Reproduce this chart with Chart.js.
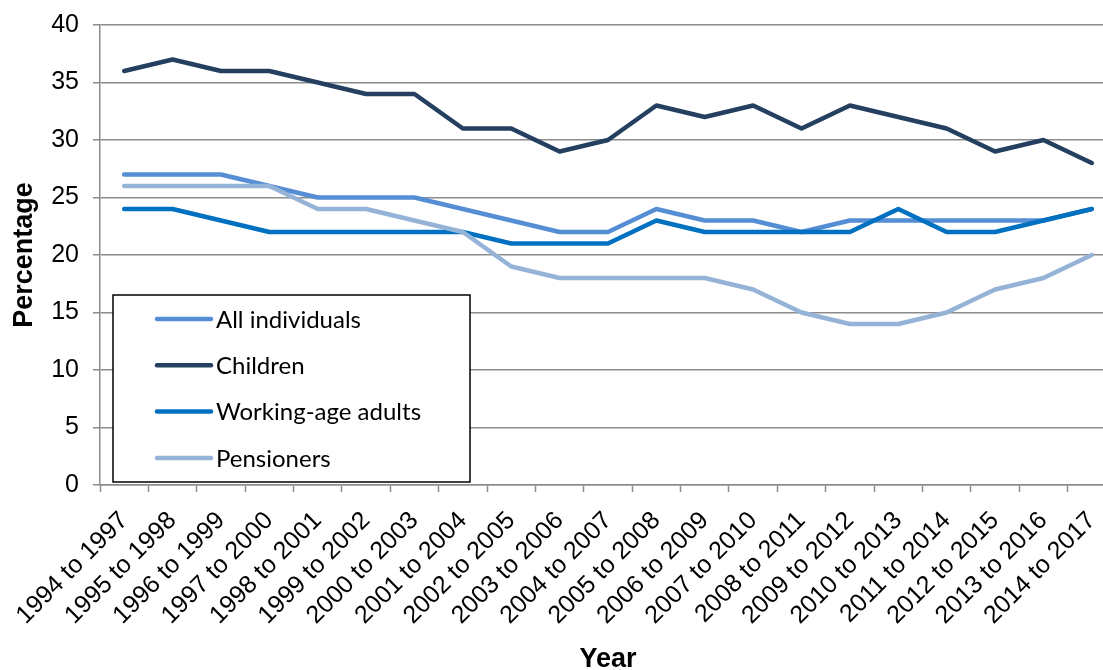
<!DOCTYPE html>
<html>
<head>
<meta charset="utf-8">
<script src="https://cdn.jsdelivr.net/npm/chart.js@4.4.1/dist/chart.umd.min.js"></script>
<style>
  html, body { margin: 0; padding: 0; background: #fff; overflow: hidden; }
  #wrap { position: relative; width: 1127px; height: 670px; }
</style>
</head>
<body>
<div id="wrap"><canvas id="chart"></canvas></div>
<script>
// categories and series
const years = [
  "1994 to 1997", "1995 to 1998", "1996 to 1999", "1997 to 2000", "1998 to 2001",
  "1999 to 2002", "2000 to 2003", "2001 to 2004", "2002 to 2005", "2003 to 2006",
  "2004 to 2007", "2005 to 2008", "2006 to 2009", "2007 to 2010", "2008 to 2011",
  "2009 to 2012", "2010 to 2013", "2011 to 2014", "2012 to 2015", "2013 to 2016",
  "2014 to 2017"
];
const allIndividuals = [27, 27, 27, 26, 25, 25, 25, 24, 23, 22, 22, 24, 23, 23, 22, 23, 23, 23, 23, 23, 24];
const children = [36, 37, 36, 36, 35, 34, 34, 31, 31, 29, 30, 33, 32, 33, 31, 33, 32, 31, 29, 30, 28];
const workingAge = [24, 24, 23, 22, 22, 22, 22, 22, 21, 21, 21, 23, 22, 22, 22, 22, 24, 22, 22, 23, 24];
const pensioners = [26, 26, 26, 26, 24, 24, 23, 22, 19, 18, 18, 18, 18, 17, 15, 14, 14, 15, 17, 18, 20];
const yTicks = [0, 5, 10, 15, 20, 25, 30, 35, 40];

const axisFont = "'Liberation Sans', Arial, sans-serif";

// boxed legend drawn inside the plot, like the original
const boxLegend = {
  id: "boxLegend",
  afterDatasetsDraw(chart) {
    const { ctx, chartArea } = chart;
    const x0 = chartArea.left + 13, y0 = chartArea.top + 270;
    const w = 357, h = 187;
    ctx.save();
    ctx.fillStyle = "#fff";
    ctx.fillRect(x0, y0, w, h);
    ctx.strokeStyle = "#000";
    ctx.lineWidth = 1.5;
    ctx.strokeRect(x0, y0, w, h);
    ctx.font = "24px Lato, 'Noto Sans', sans-serif";
    ctx.textBaseline = "middle";
    ctx.fillStyle = "#000";
    chart.data.datasets.forEach((ds, i) => {
      const y = y0 + 24 + i * 46.3;
      ctx.strokeStyle = ds.borderColor;
      ctx.lineWidth = 4.5;
      ctx.lineCap = "round";
      ctx.beginPath();
      ctx.moveTo(x0 + 44, y);
      ctx.lineTo(x0 + 98, y);
      ctx.stroke();
      ctx.fillText(ds.label, x0 + 103, y + 1);
    });
    ctx.restore();
  }
};

const line = (label, data, color, order) => ({
  label, data, order,
  borderColor: color,
  backgroundColor: color,
  borderWidth: 4.5,
  pointRadius: 0,
  tension: 0,
  borderCapStyle: "round",
  borderJoinStyle: "round",
  fill: false
});

new Chart(document.getElementById("chart"), {
  type: "line",
  data: {
    labels: years,
    datasets: [
      line("All individuals", allIndividuals, "#558ED5", 3),
      line("Children", children, "#243F60", 2),
      line("Working-age adults", workingAge, "#0070C0", 1),
      line("Pensioners", pensioners, "#95B3D7", 0)
    ]
  },
  options: {
    responsive: true,
    maintainAspectRatio: false,
    animation: false,
    layout: { padding: { top: 25, left: 0, right: 0, bottom: 0 } },
    plugins: {
      legend: { display: false },
      tooltip: { enabled: false }
    },
    scales: {
      x: {
        offset: true,
        afterFit(scale) { scale.height = 185; },
        grid: {
          offset: true,
          drawOnChartArea: false,
          drawTicks: true,
          tickLength: 7,
          tickColor: "#8c8c8c",
          tickWidth: 1.5
        },
        border: { color: "#8c8c8c", width: 1.5 },
        ticks: {
          autoSkip: false,
          maxRotation: 45,
          minRotation: 45,
          padding: 14,
          color: "#000",
          font: { family: axisFont, size: 25 }
        },
        title: {
          display: true,
          text: "Year",
          color: "#000",
          padding: { top: 0, bottom: -3 },
          font: { family: axisFont, size: 27, weight: "bold", lineHeight: 1 }
        }
      },
      y: {
        min: 0,
        max: 40,
        afterFit(scale) {
          scale.width = 100;
          scale.paddingTop = 0;
          scale.paddingBottom = 0;
        },
        afterBuildTicks(scale) { scale.ticks = yTicks.map(v => ({ value: v })); },
        grid: {
          color: "#8c8c8c",
          lineWidth: 1.5,
          tickLength: 7,
          tickColor: "#8c8c8c"
        },
        border: { color: "#8c8c8c", width: 1.5 },
        ticks: {
          padding: 14,
          color: "#000",
          font: { family: axisFont, size: 25 }
        },
        title: {
          display: true,
          text: "Percentage",
          color: "#000",
          padding: { top: 11 },
          font: { family: axisFont, size: 27, weight: "bold", lineHeight: 1 }
        }
      }
    }
  },
  plugins: [boxLegend]
});
</script>
</body>
</html>
